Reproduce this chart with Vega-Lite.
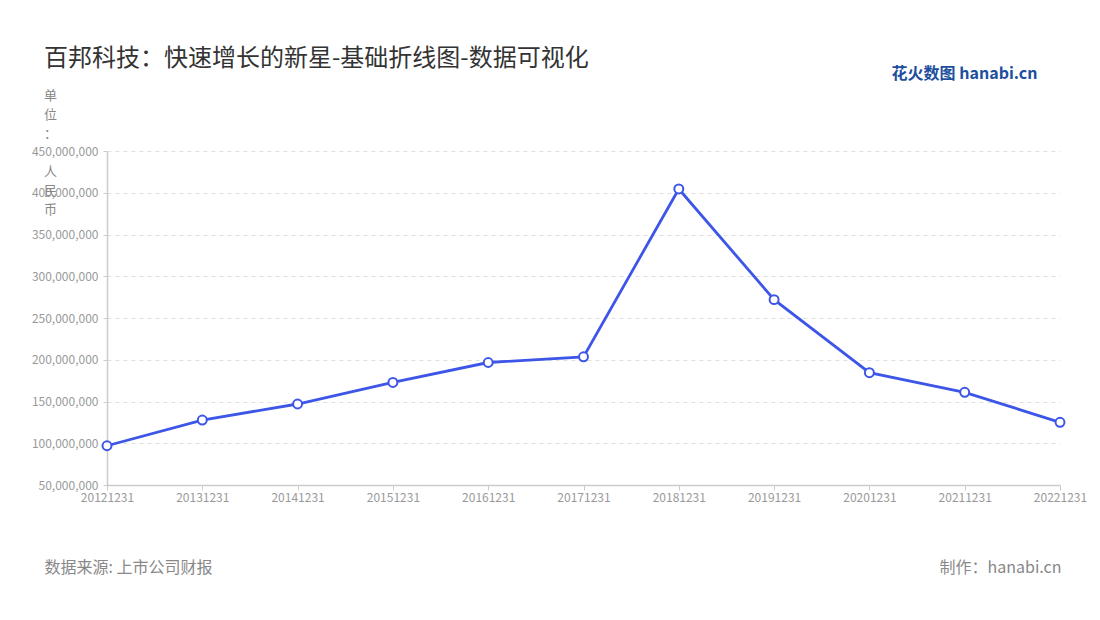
{
  "$schema": "https://vega.github.io/schema/vega-lite/v6.json",
  "width": 953,
  "height": 334,
  "autosize": {"type": "none"},
  "padding": {"left": 107, "top": 151, "right": 40, "bottom": 135},
  "background": "white",
  "title": {
    "text": "百邦科技：快速增长的新星-基础折线图-数据可视化",
    "anchor": "start",
    "frame": "group",
    "dx": -63,
    "offset": -6,
    "fontSize": 24,
    "fontWeight": "normal",
    "font": "Noto Sans CJK SC",
    "color": "#333333"
  },
  "config": {"font": "Noto Sans CJK SC", "view": {"stroke": null}},
  "data": {
    "values": [
      {"date": "20121231", "value": 97000000},
      {"date": "20131231", "value": 127800000},
      {"date": "20141231", "value": 147000000},
      {"date": "20151231", "value": 172800000},
      {"date": "20161231", "value": 196700000},
      {"date": "20171231", "value": 203500000},
      {"date": "20181231", "value": 404500000},
      {"date": "20191231", "value": 272000000},
      {"date": "20201231", "value": 184500000},
      {"date": "20211231", "value": 161000000},
      {"date": "20221231", "value": 125100000}
    ]
  },
  "layer": [
    {
      "mark": {"type": "line", "color": "#3d56e8", "strokeWidth": 2.8},
      "encoding": {
        "x": {
          "field": "date", "type": "ordinal",
          "scale": {"type": "point", "padding": 0},
          "axis": {
            "orient": "bottom", "labelAngle": 0, "labelFontSize": 12, "labelColor": "#999999",
            "labelPadding": 2, "tickSize": 5, "tickColor": "#cccccc", "domainColor": "#cccccc",
            "domainWidth": 1.5, "grid": false,
            "title": "数据来源: 上市公司财报", "titleFontSize": 16, "titleFontWeight": "normal",
            "titleColor": "#888888", "titleX": -63, "titleY": 82, "titleAlign": "left",
            "titleBaseline": "middle", "titleAnchor": "start"
          }
        },
        "y": {
          "field": "value", "type": "quantitative",
          "scale": {"domain": [50000000, 450000000], "nice": false, "zero": false},
          "axis": {
            "orient": "left",
            "values": [50000000, 100000000, 150000000, 200000000, 250000000, 300000000, 350000000, 400000000, 450000000],
            "format": ",d", "labelFontSize": 12, "labelColor": "#999999", "labelPadding": 5,
            "tickSize": 4, "tickColor": "#cccccc", "domainColor": "#cccccc", "domainWidth": 1.5,
            "grid": true, "gridColor": "#e0e0e0", "gridDash": [4, 4],
            "title": ["单", "位", "：", "\u200b", "人", "民", "币"],
            "titleAngle": 0, "titleFontSize": 13, "titleFontWeight": "normal", "titleColor": "#888888",
            "titleLineHeight": 19, "titleX": -57, "titleY": -62, "titleAlign": "center",
            "titleBaseline": "top", "titleAnchor": "start"
          }
        }
      }
    },
    {
      "mark": {"type": "point", "filled": true, "fill": "white", "stroke": "#3d56e8", "strokeWidth": 2, "size": 80, "opacity": 1},
      "encoding": {
        "x": {
          "field": "date", "type": "ordinal",
          "scale": {"type": "point", "padding": 0},
          "axis": {
            "orient": "top", "labels": false, "ticks": false, "domain": false, "grid": false,
            "title": "花火数图 hanabi.cn", "titleFontSize": 16, "titleFontWeight": "bold",
            "titleColor": "#1d4f9e", "titleX": 930, "titleY": -78, "titleAlign": "right",
            "titleBaseline": "middle", "titleAnchor": "end"
          }
        },
        "y": {
          "field": "value", "type": "quantitative",
          "scale": {"domain": [50000000, 450000000], "nice": false, "zero": false},
          "axis": {
            "orient": "right", "labels": false, "ticks": false, "domain": false, "grid": false,
            "title": "制作：hanabi.cn", "titleAngle": 0, "titleFontSize": 16, "titleFontWeight": "normal",
            "titleColor": "#888888", "titleX": 1, "titleY": 416, "titleAlign": "right",
            "titleBaseline": "middle", "titleAnchor": "end"
          }
        }
      }
    }
  ],
  "resolve": {"axis": {"x": "independent", "y": "independent"}}
}
